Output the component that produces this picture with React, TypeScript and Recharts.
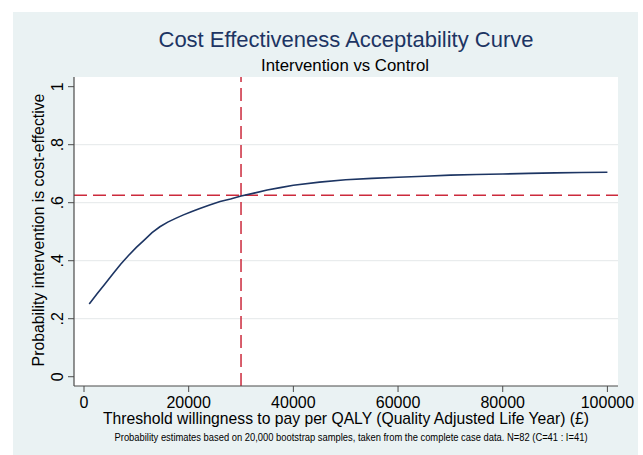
import React from 'react';
import { LineChart, Line, XAxis, YAxis, CartesianGrid, ReferenceLine, Label } from 'recharts';

// Willingness-to-pay thresholds (£) and probability intervention is cost-effective
const wtp = [1000, 2500, 4000, 5500, 7000, 8500, 10000, 11500, 13000, 14500, 16000, 17500, 19000, 20500, 22000, 24000, 26000, 28000, 30000, 32500, 35000, 37500, 40000, 45000, 50000, 55000, 60000, 65000, 70000, 75000, 80000, 85000, 90000, 95000, 100000];
const probCE = [0.251, 0.286, 0.320, 0.354, 0.388, 0.418, 0.446, 0.471, 0.497, 0.517, 0.533, 0.546, 0.558, 0.569, 0.579, 0.592, 0.604, 0.613, 0.623, 0.633, 0.644, 0.652, 0.660, 0.671, 0.679, 0.684, 0.688, 0.691, 0.695, 0.697, 0.699, 0.701, 0.703, 0.704, 0.705];

const xTicks = [0, 20000, 40000, 60000, 80000, 100000];
const yTicks = [0, 0.2, 0.4, 0.6, 0.8, 1];
const yTickLabels = ['0', '.2', '.4', '.6', '.8', '1'];
const gridValues = [0.2, 0.4, 0.6, 0.8];

const thresholdWTP = 30000;
const probAtThreshold = 0.626;

const titleText = 'Cost Effectiveness Acceptability Curve';
const subtitleText = 'Intervention vs Control';
const xTitle = 'Threshold willingness to pay per QALY (Quality Adjusted Life Year) (£)';
const yTitle = 'Probability intervention is cost-effective';
const footnote = 'Probability estimates based on 20,000 bootstrap samples, taken from the complete case data. N=82 (C=41 : I=41)';

const data = wtp.map((w, i) => ({ wtp: w, prob: probCE[i] }));

const FONT = '"Liberation Sans", Arial, sans-serif';
const NAVY = '#1d3563';
const RED = '#cc2a3c';
const AXIS = '#4a4a4a';

const YTick = (props: any) => {
  const { y, payload } = props;
  const idx = yTicks.indexOf(payload.value);
  const label = idx >= 0 ? yTickLabels[idx] : String(payload.value);
  const cx = 58;
  return (
    <text
      x={cx}
      y={y}
      transform={`rotate(-90 ${cx} ${y})`}
      textAnchor="middle"
      dominantBaseline="central"
      fontSize={16}
      fontFamily={FONT}
      fill="#000"
    >
      {label}
    </text>
  );
};

export default function App() {
  return (
    <div style={{ position: 'absolute', left: 0, top: 0, width: 643, height: 455, background: '#ffffff', overflow: 'hidden' }}>
      <div style={{ position: 'absolute', left: 13, top: 12, width: 625, height: 443, background: '#eaf2f3' }} />
      <div style={{ position: 'absolute', left: 0, top: 0 }}>
        <LineChart width={643} height={455} data={data} margin={{ top: 77, right: 25, bottom: 0, left: 0 }}>
          <CartesianGrid fill="#ffffff" vertical={false} horizontalValues={gridValues} stroke="#e4e8e9" strokeWidth={1} />
          <XAxis
            dataKey="wtp"
            type="number"
            domain={[-1911, 102025]}
            ticks={xTicks}
            interval={0}
            allowDataOverflow
            height={69}
            tickSize={6}
            tickMargin={5}
            axisLine={{ stroke: AXIS, strokeWidth: 1.2 }}
            tickLine={{ stroke: AXIS, strokeWidth: 1 }}
            tick={{ fontSize: 16, fontFamily: FONT, fill: '#000' }}
          >
            <Label
              content={() => (
                <text x={346} y={424} textAnchor="middle" fontSize={15.7} fontFamily={FONT} fill="#000">
                  {xTitle}
                </text>
              )}
            />
          </XAxis>
          <YAxis
            type="number"
            domain={[-0.032, 1.0334]}
            ticks={yTicks}
            interval={0}
            allowDataOverflow
            width={74}
            tickSize={6}
            axisLine={{ stroke: AXIS, strokeWidth: 1.2 }}
            tickLine={{ stroke: AXIS, strokeWidth: 1 }}
            tick={<YTick />}
          >
            <Label
              content={() => (
                <text
                  x={38}
                  y={230}
                  transform="rotate(-90 38 230)"
                  textAnchor="middle"
                  dominantBaseline="central"
                  fontSize={15.8}
                  fontFamily={FONT}
                  fill="#000"
                >
                  {yTitle}
                </text>
              )}
            />
          </YAxis>
          <ReferenceLine y={probAtThreshold} stroke={RED} strokeWidth={1.5} strokeDasharray="13 6" ifOverflow="extendDomain" />
          <ReferenceLine x={thresholdWTP} stroke={RED} strokeWidth={1.5} strokeDasharray="13 6" ifOverflow="extendDomain" />
          <Line dataKey="prob" type="linear" stroke={NAVY} strokeWidth={1.6} dot={false} activeDot={false} isAnimationActive={false} />
        </LineChart>
      </div>
      <svg width={643} height={455} style={{ position: 'absolute', left: 0, top: 0, pointerEvents: 'none' }}>
        <text x={346} y={46.7} textAnchor="middle" fontSize={22} fontFamily={FONT} fill={NAVY}>{titleText}</text>
        <text x={345} y={70.5} textAnchor="middle" fontSize={16.8} fontFamily={FONT} fill="#000">{subtitleText}</text>
        <text x={351} y={441} textAnchor="middle" fontSize={10} fontFamily={FONT} fill="#000" textLength={473} lengthAdjust="spacingAndGlyphs">{footnote}</text>
      </svg>
    </div>
  );
}
